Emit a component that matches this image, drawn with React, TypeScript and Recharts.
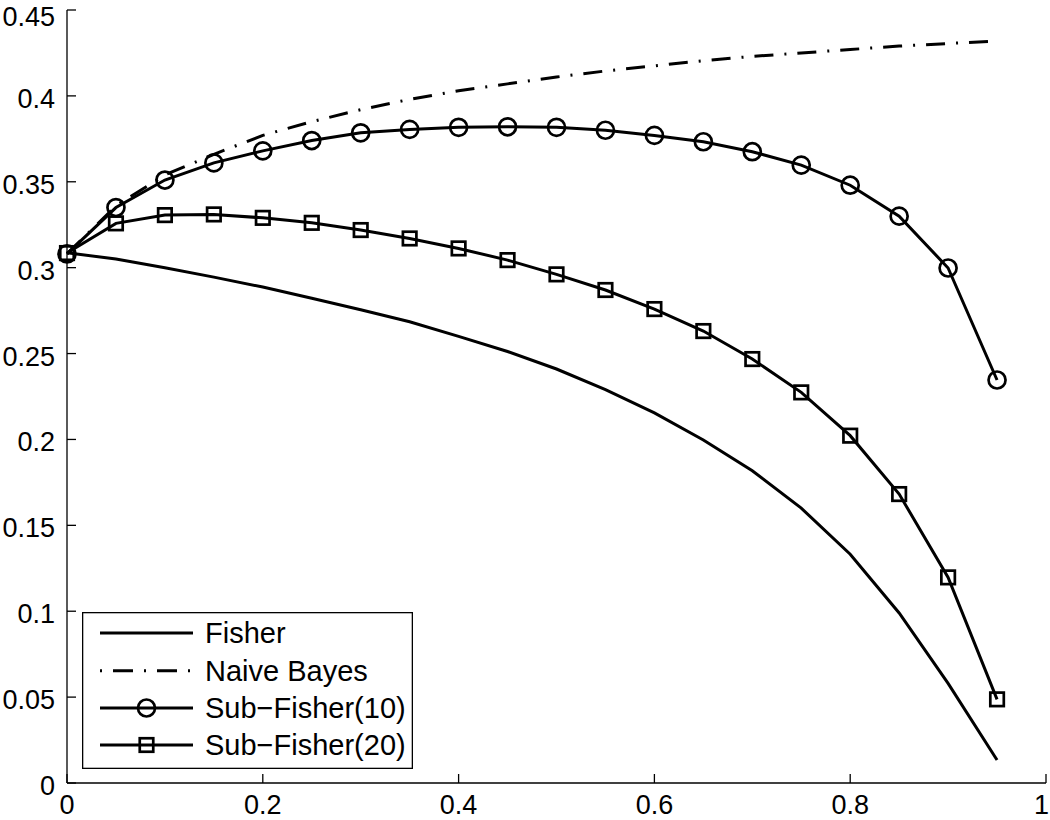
import React from 'react';
import { LineChart, Line, XAxis, YAxis, Legend } from 'recharts';

const xValues = [0, 0.05, 0.1, 0.15, 0.2, 0.25, 0.3, 0.35, 0.4, 0.45, 0.5, 0.55, 0.6, 0.65, 0.7, 0.75, 0.8, 0.85, 0.9, 0.95];
const fisher = [0.3087, 0.305, 0.3, 0.2945, 0.2887, 0.2822, 0.2755, 0.2685, 0.26, 0.2512, 0.241, 0.229, 0.2155, 0.1997, 0.1818, 0.16, 0.1332, 0.099, 0.058, 0.0134];
const naiveBayes = [0.308, 0.336, 0.354, 0.366, 0.377, 0.385, 0.392, 0.398, 0.403, 0.407, 0.411, 0.4145, 0.4175, 0.4205, 0.423, 0.425, 0.427, 0.429, 0.4305, 0.432];
const subFisher10 = [0.308, 0.335, 0.351, 0.361, 0.368, 0.374, 0.3785, 0.3805, 0.3817, 0.382, 0.3817, 0.38, 0.377, 0.3733, 0.3675, 0.3597, 0.348, 0.33, 0.2998, 0.2346];
const subFisher20 = [0.3085, 0.3258, 0.3306, 0.331, 0.329, 0.3261, 0.3219, 0.317, 0.3112, 0.3044, 0.2961, 0.287, 0.2759, 0.2631, 0.2468, 0.2274, 0.2022, 0.1682, 0.1197, 0.0487];

const xTicks = [0, 0.2, 0.4, 0.6, 0.8, 1];
const yTicks = [0, 0.05, 0.1, 0.15, 0.2, 0.25, 0.3, 0.35, 0.4, 0.45];
const seriesNames = ['Fisher', 'Naive Bayes', 'Sub\u2212Fisher(10)', 'Sub\u2212Fisher(20)'];

const data = xValues.map((x, i) => ({
  x,
  fisher: fisher[i],
  naive: naiveBayes[i],
  sub10: subFisher10[i],
  sub20: subFisher20[i],
}));

const FONT = '"Liberation Sans", Arial, Helvetica, sans-serif';
const LW = 3;
const MW = 2.7;
const AXW = 1.3;
const TICK = 9;
const DASHDOT = '19 11 2 11';
const CHART_W = 1050;

// tickSize=0 & tickMargin=0 -> (x, y) handed to the tick is the point on the axis line
const LeftTick = (props: any) => {
  const { x, y, payload } = props;
  const baseline = Math.max(y + 12, 26);
  return (
    <g>
      <line x1={x} x2={x + TICK} y1={y} y2={y} stroke="#000" strokeWidth={AXW} />
      <text x={x - 12} y={baseline} textAnchor="end" fontSize={27} fontFamily={FONT} fill="#000">
        {String(payload.value)}
      </text>
    </g>
  );
};

const RightTick = (props: any) => {
  const { x, y } = props;
  return <line x1={x} x2={x - TICK} y1={y} y2={y} stroke="#000" strokeWidth={AXW} />;
};

const BottomTick = (props: any) => {
  const { x, y, payload } = props;
  const nearEdge = x > CHART_W - 12;
  return (
    <g>
      <line x1={x} x2={x} y1={y} y2={y - TICK} stroke="#000" strokeWidth={AXW} />
      <text
        x={nearEdge ? CHART_W - 1 : x}
        y={y + 31}
        textAnchor={nearEdge ? 'end' : 'middle'}
        fontSize={27}
        fontFamily={FONT}
        fill="#000"
      >
        {String(payload.value)}
      </text>
    </g>
  );
};

const TopTick = (props: any) => {
  const { x, y } = props;
  return <line x1={x} x2={x} y1={y} y2={y + TICK} stroke="#000" strokeWidth={AXW} />;
};

const CircleDot = (props: any) => {
  const { cx, cy, index } = props;
  return <circle key={`c${index}`} cx={cx} cy={cy} r={8.5} fill="none" stroke="#000" strokeWidth={MW} />;
};

const SquareDot = (props: any) => {
  const { cx, cy, index } = props;
  return <rect key={`s${index}`} x={cx - 6.75} y={cy - 6.75} width={13.5} height={13.5} fill="none" stroke="#000" strokeWidth={MW} />;
};

const LegendBox = () => {
  const rows = [21, 58.7, 96, 133];
  return (
    <svg width={331} height={157} style={{ display: 'block' }}>
      <rect x={0.65} y={0.65} width={329.7} height={155.7} fill="#fff" stroke="#000" strokeWidth={AXW} />
      <line x1={18} x2={111} y1={rows[0]} y2={rows[0]} stroke="#000" strokeWidth={LW} />
      <line x1={18} x2={111} y1={rows[1]} y2={rows[1]} stroke="#000" strokeWidth={LW} strokeDasharray="2 11 20 11" />
      <line x1={18} x2={111} y1={rows[2]} y2={rows[2]} stroke="#000" strokeWidth={LW} />
      <circle cx={64.5} cy={rows[2]} r={8.5} fill="none" stroke="#000" strokeWidth={MW} />
      <line x1={18} x2={111} y1={rows[3]} y2={rows[3]} stroke="#000" strokeWidth={LW} />
      <rect x={64.5 - 6.75} y={rows[3] - 6.75} width={13.5} height={13.5} fill="none" stroke="#000" strokeWidth={MW} />
      {seriesNames.map((n, i) => (
        <text key={n} x={123} y={rows[i] + 10} fontSize={29} fontFamily={FONT} fill="#000">
          {n}
        </text>
      ))}
    </svg>
  );
};

export default function App() {
  return (
    <div style={{ position: 'absolute', left: 0, top: 0, width: CHART_W, height: 820, background: '#fff' }}>
      <LineChart width={CHART_W} height={820} data={data} margin={{ top: 10, right: 4, bottom: 0, left: 0 }}>
        <XAxis
          dataKey="x"
          type="number"
          domain={[0, 1]}
          ticks={xTicks}
          height={37}
          tickSize={0}
          tickMargin={0}
          tick={<BottomTick />}
          tickLine={false}
          axisLine={{ stroke: '#000', strokeWidth: AXW }}
          interval={0}
        />
        <XAxis
          xAxisId="top"
          orientation="top"
          dataKey="x"
          type="number"
          domain={[0, 1]}
          ticks={xTicks}
          height={0}
          tickSize={0}
          tickMargin={0}
          tick={<TopTick />}
          tickLine={false}
          axisLine={{ stroke: '#000', strokeWidth: AXW }}
          interval={0}
        />
        <YAxis
          type="number"
          domain={[0, 0.45]}
          ticks={yTicks}
          width={67}
          tickSize={0}
          tickMargin={0}
          tick={<LeftTick />}
          tickLine={false}
          axisLine={{ stroke: '#000', strokeWidth: AXW }}
          interval={0}
        />
        <YAxis
          yAxisId="right"
          orientation="right"
          type="number"
          domain={[0, 0.45]}
          ticks={yTicks}
          width={0}
          tickSize={0}
          tickMargin={0}
          tick={<RightTick />}
          tickLine={false}
          axisLine={{ stroke: '#000', strokeWidth: AXW }}
          interval={0}
        />
        <Line type="linear" dataKey="fisher" name={seriesNames[0]} stroke="#000" strokeWidth={LW} dot={false} isAnimationActive={false} />
        <Line type="linear" dataKey="naive" name={seriesNames[1]} stroke="#000" strokeWidth={LW} strokeDasharray={DASHDOT} dot={false} isAnimationActive={false} />
        <Line type="linear" dataKey="sub10" name={seriesNames[2]} stroke="#000" strokeWidth={LW} dot={CircleDot} isAnimationActive={false} />
        <Line type="linear" dataKey="sub20" name={seriesNames[3]} stroke="#000" strokeWidth={LW} dot={SquareDot} isAnimationActive={false} />
        <Legend
          layout="horizontal"
          verticalAlign="middle"
          align="center"
          wrapperStyle={{ left: 82, top: 612, width: 331, height: 157 }}
          content={() => <LegendBox />}
        />
      </LineChart>
    </div>
  );
}
